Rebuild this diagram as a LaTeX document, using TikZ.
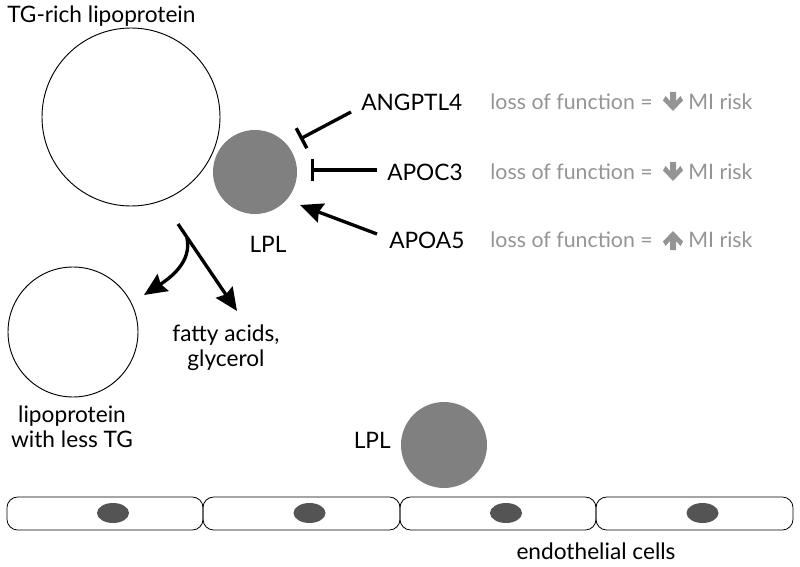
\documentclass[tikz,border=0pt]{standalone}
\usepackage{fontspec}
\setmainfont{Lato}
\usetikzlibrary{arrows.meta,shapes.geometric}
\begin{document}
\begin{tikzpicture}[x=0.75pt,y=-0.75pt,
  lbl/.style={font=\fontsize{17}{20}\selectfont, inner sep=0pt, text=black},
  grey/.style={font=\fontsize{16}{20}\selectfont, inner sep=0pt, text=black!42},
  conn/.style={line width=2.5pt},
  arr/.style={conn, -{Stealth[length=17pt,width=15pt,inset=2pt]}},
  inh/.style={conn, -{Bar[width=17pt,line width=2.6pt]}},
  cell/.style={draw, line width=0.6pt, rounded corners=8pt},
  nucleus/.style={fill=black!67, draw=none, ellipse}]
\useasboundingbox (0,0) rectangle (800,567);
% lipoprotein
\node[circle, draw, line width=0.7pt, minimum size=178*0.75pt, inner sep=0pt] (tg) at (131,117) {};
\node[lbl, anchor=west] (tgl) at (7,16) {TG-rich lipoprotein};
\node[circle, fill=black!50, minimum size=84*0.75pt, inner sep=0pt] (lpl) at (255,172) {};
\node[lbl] (lpll) at (268,244) {LPL};
% small lipoprotein
\node[circle, draw, line width=0.7pt, minimum size=130*0.75pt, inner sep=0pt] (small) at (73,332) {};
\node[lbl, align=center] (smalll) at (72,427) {lipoprotein\\[-1pt]with less TG};
\node[lbl, align=center] (fa) at (226,348) {fatty acids,\\[-1pt]glycerol};
% hydrolysis arrows
\coordinate (s) at (178,224);
\coordinate (br) at (187,238);
\coordinate (fae) at (237,311);
\coordinate (sme) at (144,295);
\draw[arr] (s) -- (fae);
\draw[arr] (br) .. controls (192,262) and (170,278) .. (sme);
% regulators
\node[lbl, anchor=west] (ang) at (361,102) {ANGPTL4};
\node[lbl, anchor=west] (apoc) at (387,172) {APOC3};
\node[lbl, anchor=west] (apoa) at (389,240) {APOA5};
\coordinate (angs) at (351,112);
\coordinate (ange) at (300,139);
\coordinate (apocs) at (377,170);
\coordinate (apoce) at (311,170);
\coordinate (apoas) at (377,234);
\coordinate (apoae) at (300,205);
\draw[inh] (angs) -- (ange);
\draw[inh] (apocs) -- (apoce);
\draw[arr] (apoas) -- (apoae);
% grey annotations
\foreach \y/\d [count=\i] in {102/1,172/1,240/-1}{
  \node[grey, anchor=east] (lf\i) at (653,\y) {loss of function =};
  \node[grey, anchor=west] (mi\i) at (688,\y) {MI risk};
  \begin{scope}[shift={(673,\y)}, yscale=\d]
    \fill[black!42] (-3,-10) -- (3,-10) -- (3,-1) -- (7.5,-6) -- (10,-1.5) -- (0,9) -- (-10,-1.5) -- (-7.5,-6) -- (-3,-1) -- cycle;
  \end{scope}
}
% LPL at cells
\node[circle, fill=black!50, minimum size=86*0.75pt, inner sep=0pt] (lpl2) at (444,445) {};
\node[lbl, anchor=east] (lpl2l) at (391,440) {LPL};
% endothelial cells
\foreach \a/\b [count=\i] in {7/203,203/400,400/596,596/793}{
  \draw[cell] (\a,497) rectangle (\b,530);
  \node[nucleus, minimum width=32*0.75pt, minimum height=20*0.75pt] (n\i) at ({(\a+\b)/2+8},513) {};
}
\node[lbl] (endo) at (596,551) {endothelial cells};
\end{tikzpicture}
\end{document}
